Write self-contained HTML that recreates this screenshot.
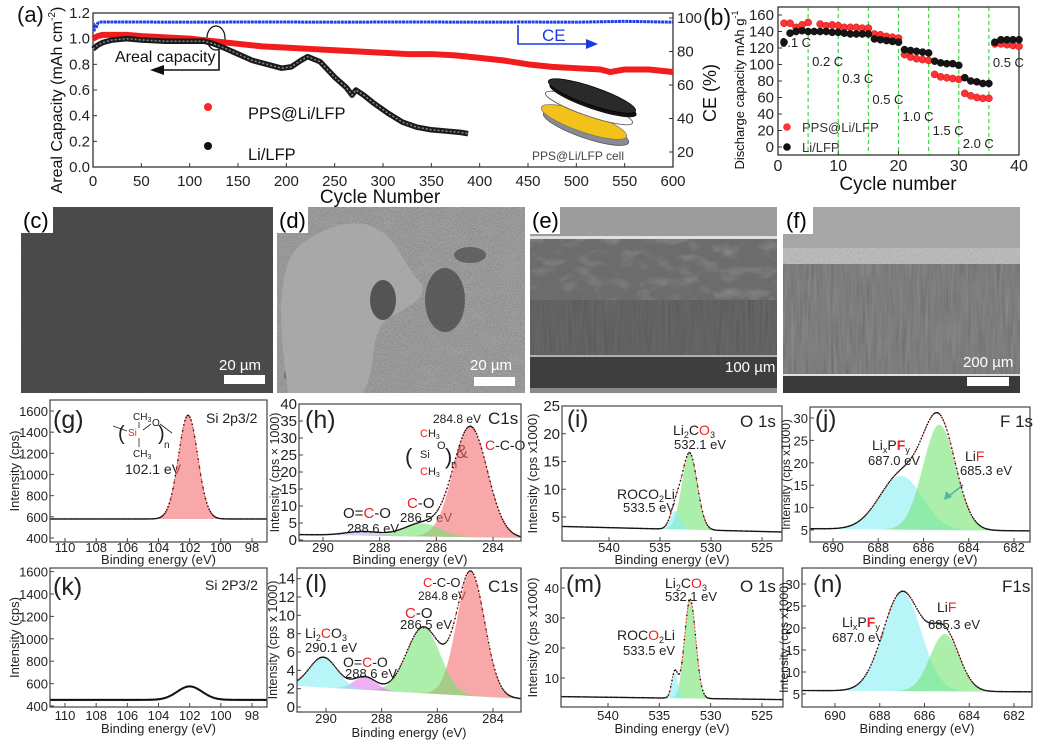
<!DOCTYPE html>
<html><head><meta charset="utf-8">
<style>
body{margin:0;background:#fff}
svg{display:block;font-family:"Liberation Sans",sans-serif}
</style></head>
<body>
<svg id="fig" width="1040" height="751" viewBox="0 0 1040 751" xmlns="http://www.w3.org/2000/svg">
<defs id="defs">
<filter id="grain" x="0" y="0" width="100%" height="100%"><feTurbulence type="fractalNoise" baseFrequency="0.7" numOctaves="2" seed="4"/><feColorMatrix type="matrix" values="0.33 0.33 0.33 0 0  0.33 0.33 0.33 0 0  0.33 0.33 0.33 0 0  0 0 0 0 1"/></filter>
<filter id="streak" x="0" y="0" width="100%" height="100%"><feTurbulence type="fractalNoise" baseFrequency="0.35 0.025" numOctaves="3" seed="7"/><feColorMatrix type="matrix" values="0.33 0.33 0.33 0 0  0.33 0.33 0.33 0 0  0.33 0.33 0.33 0 0  0 0 0 0 1"/></filter>
<filter id="blob" x="0" y="0" width="100%" height="100%"><feTurbulence type="fractalNoise" baseFrequency="0.05 0.09" numOctaves="3" seed="11"/><feColorMatrix type="matrix" values="0 0 0 0 0.25  0 0 0 0 0.25  0 0 0 0 0.25  -2.5 0 0 0 1.3"/></filter>
</defs>

<!-- ============ SEM images ============ -->
<g>
  <rect x="21" y="207" width="252" height="186" fill="#414141"/>
  <rect x="21" y="207" width="252" height="186" filter="url(#grain)" opacity="0.08"/>
  <rect x="21" y="207" width="32" height="26" fill="#fff"/>
  <text x="23" y="228" font-size="22" fill="#000">(c)</text>
  <text x="219" y="370" font-size="15" fill="#fff">20 µm</text>
  <rect x="224" y="375" width="41" height="9" fill="#fff"/>
</g>
<g>
  <rect x="277" y="207" width="248" height="186" fill="#7c7c7c"/>
  <rect x="277" y="207" width="248" height="186" filter="url(#blob)" opacity="0.6"/>
  <rect x="277" y="207" width="248" height="186" filter="url(#grain)" opacity="0.35"/>
  <ellipse cx="445" cy="300" rx="20" ry="32" fill="#3a3a3a" opacity="0.8"/>
  <ellipse cx="470" cy="255" rx="16" ry="8" fill="#444" opacity="0.8"/>
  <ellipse cx="312" cy="375" rx="28" ry="12" fill="#505050" opacity="0.8"/>
  <path d="M300 245 C330 222 362 218 378 230 C395 236 402 262 422 285 C428 302 398 310 384 322 C368 340 378 372 362 393 L288 393 C284 360 279 322 282 292 C285 266 290 255 300 245 Z" fill="#a5a5a5"/>
  <rect x="277" y="207" width="248" height="186" filter="url(#grain)" opacity="0.15"/>
  <ellipse cx="383" cy="300" rx="13" ry="20" fill="#454545" opacity="0.85"/>
  <rect x="277" y="207" width="31" height="26" fill="#fff"/>
  <text x="279" y="228" font-size="22" fill="#000">(d)</text>
  <text x="470" y="370" font-size="15" fill="#fff">20 µm</text>
  <rect x="474" y="377" width="41" height="9" fill="#fff"/>
</g>
<g>
  <rect x="530" y="207" width="247" height="186" fill="#5a5a5a"/>
  <rect x="530" y="207" width="247" height="30" fill="#9c9c9c"/>
  <rect x="530" y="236" width="247" height="3" fill="#e0e0e0"/>
  <rect x="530" y="239" width="247" height="62" fill="#6c6c6c"/>
  <rect x="530" y="239" width="247" height="62" filter="url(#blob)" opacity="0.8"/>
  <rect x="530" y="300" width="247" height="56" fill="#4c4c4c"/>
  <rect x="530" y="300" width="247" height="56" filter="url(#streak)" opacity="0.2"/>
  <rect x="530" y="355" width="247" height="2" fill="#b0b0b0"/>
  <rect x="530" y="357" width="247" height="31" fill="#3e3e3e"/>
  <rect x="530" y="388" width="247" height="5" fill="#8a8a8a"/>
  <rect x="530" y="207" width="30" height="27" fill="#fff"/>
  <text x="532" y="228" font-size="22" fill="#000">(e)</text>
  <text x="725" y="372" font-size="15" fill="#fff">100 µm</text>
</g>
<g>
  <rect x="783" y="207" width="237" height="186" fill="#5c5c5c"/>
  <rect x="783" y="207" width="237" height="45" fill="#a6a6a6"/>
  <rect x="783" y="248" width="237" height="16" fill="#b8b8b8"/>
  <rect x="783" y="248" width="237" height="16" filter="url(#grain)" opacity="0.4"/>
  <rect x="783" y="264" width="237" height="110" filter="url(#streak)" opacity="0.35"/>
  <rect x="783" y="374" width="237" height="2" fill="#e0e0e0"/>
  <rect x="783" y="376" width="237" height="17" fill="#3a3a3a"/>
  <rect x="783" y="207" width="30" height="27" fill="#fff"/>
  <text x="786" y="228" font-size="22" fill="#000">(f)</text>
  <text x="963" y="367" font-size="15" fill="#fff">200 µm</text>
  <rect x="967" y="377" width="42" height="9" fill="#fff"/>
</g>

<!-- ============ Panel (a) static ============ -->
<g>
  <text x="17" y="22" font-size="22" fill="#111">(a)</text>
  <text transform="translate(62,100) rotate(-90)" text-anchor="middle" font-size="16" fill="#111">Areal Capacity (mAh cm<tspan font-size="10" dy="-7">-2</tspan><tspan dy="7">)</tspan></text>
  <text transform="translate(716,93) rotate(-90)" text-anchor="middle" font-size="18" fill="#111">CE (%)</text>
  <text x="380" y="203" text-anchor="middle" font-size="19" fill="#111">Cycle Number</text>
  <text x="115" y="62" font-size="16" fill="#111">Areal capacity</text>
  <ellipse cx="216" cy="38" rx="9" ry="12" fill="none" stroke="#111" stroke-width="1.2"/>
  <polyline points="219,50 219,70 162,70" fill="none" stroke="#111" stroke-width="1.6"/>
  <polygon points="150,70 164,65 164,75" fill="#111"/>
  <text x="542" y="41" font-size="17" fill="#1a3ae0">CE</text>
  <polyline points="518,25 518,44 588,44" fill="none" stroke="#1a3ae0" stroke-width="1.6"/>
  <polygon points="598,44 586,39 586,49" fill="#1a3ae0"/>
  <circle cx="208" cy="107" r="4" fill="#f22"/>
  <text x="248" y="119" font-size="16.5" fill="#111">PPS@Li/LFP</text>
  <circle cx="208" cy="146" r="4" fill="#111"/>
  <text x="248" y="160" font-size="16.5" fill="#111">Li/LFP</text>
  <g>
    <ellipse cx="586" cy="128" rx="45" ry="10" transform="rotate(19 586 128)" fill="#8a8a95" stroke="#555" stroke-width="0.8"/>
    <ellipse cx="584" cy="122" rx="45" ry="10" transform="rotate(19 584 122)" fill="#f3c21a" stroke="#777" stroke-width="0.8"/>
    <ellipse cx="589" cy="108" rx="46" ry="8" transform="rotate(19 589 108)" fill="#fafafa" stroke="#666" stroke-width="1"/>
    <ellipse cx="593" cy="100" rx="46" ry="9" transform="rotate(19 593 100)" fill="#111"/>
    <ellipse cx="592" cy="96" rx="46" ry="9" transform="rotate(19 592 96)" fill="#2a2a2a" stroke="#000" stroke-width="0.8"/>
  </g>
  <text x="578" y="160" text-anchor="middle" font-size="12" fill="#444">PPS@Li/LFP cell</text>
</g>

<!-- ============ Panel (b) static ============ -->
<g>
  <text x="703" y="25" font-size="23" fill="#111">(b)</text>
  <text transform="translate(744,90) rotate(-90)" text-anchor="middle" font-size="13" fill="#111">Discharge capacity mAh g<tspan font-size="9" dy="-6">-1</tspan></text>
  <text x="898" y="190" text-anchor="middle" font-size="19" fill="#111">Cycle number</text>
  <circle cx="787" cy="127" r="3.8" fill="#f33"/>
  <text x="802" y="132" font-size="13" fill="#333">PPS@Li/LFP</text>
  <circle cx="787" cy="147" r="3.8" fill="#111"/>
  <text x="802" y="152" font-size="13" fill="#333">Li/LFP</text>
</g>

<!-- ============ XPS static annotations ============ -->
<g font-size="13" fill="#222">
  <text x="53" y="428" font-size="25">(g)</text>
  <text x="206" y="423" font-size="14">Si 2p3/2</text>
  <g font-size="10">
    <text x="133" y="420">CH<tspan font-size="7" dy="2">3</tspan></text>
    <text x="128" y="436" fill="#e22">Si</text>
    <text x="152" y="426">O</text>
    <text x="133" y="457">CH<tspan font-size="7" dy="2">3</tspan></text>
    <text x="118" y="440" font-size="20">(</text>
    <text x="158" y="440" font-size="20">)</text>
    <text x="164" y="448">n</text>
    <line x1="139" y1="422" x2="139" y2="428" stroke="#222" stroke-width="0.8"/>
    <line x1="139" y1="438" x2="139" y2="447" stroke="#222" stroke-width="0.8"/>
    <line x1="113" y1="426" x2="127" y2="431" stroke="#222" stroke-width="0.8"/>
    <line x1="143" y1="430" x2="151" y2="424" stroke="#222" stroke-width="0.8"/>
    <line x1="160" y1="424" x2="172" y2="433" stroke="#222" stroke-width="0.8"/>
  </g>
  <text x="125" y="474" font-size="14">102.1 eV</text>

  <text x="305" y="428" font-size="25">(h)</text>
  <text x="488" y="424" font-size="17">C1s</text>
  <text x="433" y="423" font-size="12">284.8 eV</text>
  <g font-size="11">
    <text x="420" y="437" fill="#e22">C<tspan fill="#222">H</tspan><tspan font-size="7" dy="2" fill="#222">3</tspan></text>
    <text x="420" y="458">Si</text>
    <text x="437" y="449">O</text>
    <text x="420" y="475" fill="#e22">C<tspan fill="#222">H</tspan><tspan font-size="7" dy="2" fill="#222">3</tspan></text>
    <text x="405" y="464" font-size="22">(</text>
    <text x="445" y="464" font-size="22">)</text>
    <text x="451" y="468">n</text>
  </g>
  <text x="456" y="458" font-size="18">&amp;</text>
  <text x="485" y="450" font-size="14"><tspan fill="#e22">C</tspan>-C-O</text>
  <text x="407" y="508" font-size="15"><tspan fill="#e22">C</tspan>-O</text>
  <text x="400" y="522" font-size="13">286.5 eV</text>
  <text x="343" y="518" font-size="15">O=<tspan fill="#e22">C</tspan>-O</text>
  <text x="347" y="533" font-size="13">288.6 eV</text>

  <text x="567" y="427" font-size="24">(i)</text>
  <text x="740" y="427" font-size="17">O 1s</text>
  <text x="673" y="435" font-size="14">Li<tspan font-size="9" dy="3">2</tspan><tspan dy="-3">C</tspan><tspan fill="#e22">O</tspan><tspan font-size="9" dy="3">3</tspan></text>
  <text x="674" y="449" font-size="13">532.1 eV</text>
  <text x="617" y="499" font-size="14">ROCO<tspan font-size="9" dy="3">2</tspan><tspan dy="-3">Li</tspan></text>
  <text x="623" y="512" font-size="13">533.5 eV</text>

  <text x="815" y="427" font-size="24">(j)</text>
  <text x="1000" y="427" font-size="17">F 1s</text>
  <text x="872" y="450" font-size="14">Li<tspan font-size="9" dy="3">x</tspan><tspan dy="-3">P</tspan><tspan fill="#e22" font-weight="bold">F</tspan><tspan font-size="9" dy="3">y</tspan></text>
  <text x="868" y="465" font-size="13">687.0 eV</text>
  <text x="965" y="461" font-size="14">Li<tspan fill="#e22">F</tspan></text>
  <text x="960" y="475" font-size="13">685.3 eV</text>
  <line x1="963" y1="485" x2="949" y2="496" stroke="#2a6af0" stroke-width="1.5"/>
  <polygon points="944,500 946,491 952,497" fill="#2a6af0"/>

  <text x="53" y="595" font-size="25">(k)</text>
  <text x="205" y="590" font-size="14">Si 2P3/2</text>

  <text x="305" y="592" font-size="25">(l)</text>
  <text x="488" y="592" font-size="17">C1s</text>
  <text x="423" y="587" font-size="13"><tspan fill="#e22">C</tspan>-C-O</text>
  <text x="418" y="600" font-size="12">284.8 eV</text>
  <text x="405" y="618" font-size="15"><tspan fill="#e22">C</tspan>-O</text>
  <text x="400" y="629" font-size="13">286.5 eV</text>
  <text x="305" y="638" font-size="14">Li<tspan font-size="9" dy="3">2</tspan><tspan dy="-3" fill="#e22">C</tspan>O<tspan font-size="9" dy="3">3</tspan></text>
  <text x="305" y="652" font-size="13">290.1 eV</text>
  <text x="343" y="667" font-size="14">O=<tspan fill="#e22">C</tspan>-O</text>
  <text x="345" y="678" font-size="13">288.6 eV</text>

  <text x="566" y="592" font-size="24">(m)</text>
  <text x="740" y="592" font-size="17">O 1s</text>
  <text x="665" y="588" font-size="14">Li<tspan font-size="9" dy="3">2</tspan><tspan dy="-3">C</tspan><tspan fill="#e22">O</tspan><tspan font-size="9" dy="3">3</tspan></text>
  <text x="665" y="601" font-size="13">532.1 eV</text>
  <text x="617" y="640" font-size="14">ROC<tspan fill="#e22">O</tspan><tspan font-size="9" dy="3">2</tspan><tspan dy="-3">Li</tspan></text>
  <text x="623" y="655" font-size="13">533.5 eV</text>

  <text x="813" y="592" font-size="24">(n)</text>
  <text x="1002" y="592" font-size="17">F1s</text>
  <text x="842" y="627" font-size="14">Li<tspan font-size="9" dy="3">x</tspan><tspan dy="-3">P</tspan><tspan fill="#e22" font-weight="bold">F</tspan><tspan font-size="9" dy="3">y</tspan></text>
  <text x="832" y="642" font-size="13">687.0 eV</text>
  <text x="937" y="612" font-size="14">Li<tspan fill="#e22">F</tspan></text>
  <text x="928" y="629" font-size="13">685.3 eV</text>
</g>
</svg>

<script>
// ---------- Panel (a) data ----------
const aXTicks = [0,50,100,150,200,250,300,350,400,450,500,550,600];
const aYTicks = [0,0.2,0.4,0.6,0.8,1.0,1.2];
const aCeTicks = [20,40,60,80,100];
const aPpsCycles = [0,5,10,20,35,50,75,100,125,150,175,200,225,250,275,300,325,350,375,400,425,450,475,500,525,535,550,575,600];
const aPpsCap = [1.0,1.02,1.03,1.03,1.03,1.02,1.01,1.0,0.98,0.96,0.94,0.93,0.92,0.91,0.9,0.89,0.88,0.88,0.87,0.85,0.83,0.8,0.78,0.77,0.76,0.74,0.76,0.76,0.74];
const aLiCycles = [0,5,10,20,35,50,75,100,115,125,135,150,165,180,195,205,215,222,235,250,262,268,272,280,290,305,320,335,350,365,380,388];
const aLiCap = [0.92,0.95,0.97,0.99,1.0,0.99,0.98,0.98,0.98,0.96,0.93,0.88,0.83,0.8,0.77,0.78,0.83,0.86,0.82,0.7,0.62,0.56,0.6,0.56,0.5,0.42,0.35,0.31,0.29,0.28,0.27,0.26];
const aCeCycles = [1,2,3,5,8,50,100,150,200,250,300,350,400,450,500,550,600];
const aCe = [92,95,94,97,97.6,97.6,97.5,97.6,97.6,97.5,97.6,97.6,97.5,97.6,97.5,98,97.5];

// ---------- Panel (b) data ----------
const bXTicks = [0,10,20,30,40];
const bYTicks = [0,20,40,60,80,100,120,140,160];
const bCycles = [1,2,3,4,5,6,7,8,9,10,11,12,13,14,15,16,17,18,19,20,21,22,23,24,25,26,27,28,29,30,31,32,33,34,35,36,37,38,39,40];
const bPps = [150,150,145,148,151,null,149,147,148,147,145,145,145,144,144,137,136,134,133,132,112,109,107,106,105,88,85,84,83,82,65,62,60,59,59,125,125,124,123,122];
const bLi = [127,138,140,141,140,140,140,140,139,139,138,137,137,137,137,131,130,129,128,127,118,117,116,115,114,104,102,101,101,99,84,80,79,77,77,127,130,130,130,130];
const bRateBounds = [5,10,15,20,25,30,35];
const bRateNames = ["0.1 C","0.2 C","0.3 C","0.5 C","1.0 C","1.5 C","2.0 C","0.5 C"];
const bRateStart = [0,5,10,15,20,25,30,35];

// ---------- XPS data ----------
const gCenters=[102.1], gHeights=[980], gSigmas=[0.62], gBase=[580,580];
const hCenters=[284.8,286.5,288.6], hHeights=[32.5,3.8,1.2], hSigmas=[0.6,0.65,0.6], hBase=[1.6,0.6];
const iCenters=[532.1,533.5], iHeights=[13.8,3.3], iSigmas=[0.75,0.5], iBase=[3.3,2.3];
const jCenters=[687.0,685.3], jHeights=[12,23.5], jSigmas=[0.95,0.72], jBase=[5.3,4.8];
const kCenters=[102.0], kHeights=[120], kSigmas=[0.8], kBase=[455,455];
const lCenters=[284.8,286.5,288.6,290.1], lHeights=[13.5,7.2,1.4,3.3], lSigmas=[0.5,0.6,0.4,0.5], lBase=[2.3,0.9];
const mCenters=[532.0,533.5], mHeights=[33,8.5], mSigmas=[0.55,0.3], mBase=[3.8,2.8];
const nCenters=[687.0,685.1], nHeights=[22.5,13], nSigmas=[0.85,0.65], nBase=[5.8,5.5];
const gXTicks=[110,108,106,104,102,100,98], gYTicks=[400,600,800,1000,1200,1400,1600];
const hXTicks=[290,288,286,284], hYTicks=[0,5,10,15,20,25,30,35,40];
const iXTicks=[540,535,530,525], iYTicks=[5,10,15,20,25];
const jXTicks=[690,688,686,684,682], jYTicks=[5,10,15,20,25,30];
const lYTicks=[0,2,4,6,8,10,12,14];
const mYTicks=[10,20,30,40];

const NS='http://www.w3.org/2000/svg';
const svg=document.getElementById('fig');
const defs=document.getElementById('defs');
function lin(d0,d1,r0,r1){return v=>r0+(v-d0)*(r1-r0)/(d1-d0);}
function mk(tag,attrs,name,parent){
  const e=document.createElementNS(NS,tag);
  for(const k in attrs) e.setAttribute(k,attrs[k]);
  
  
  parent.appendChild(e);
  return e;
}
function label(parent,x,y,s,size,anchor,name){
  const t=mk('text',{x:x,y:y,'font-size':size,'text-anchor':anchor,fill:'#222'},name,parent);
  t.textContent=s;
  return t;
}

// ---------- Panel (a) ----------
(function(){
  const g=mk('g',{},'panel-a-chart',svg);
  const ax=lin(0,600,93,673), ay=lin(0,1.2,167,13), ace=lin(20,100,152,18);
  mk('rect',{x:93,y:13,width:580,height:154,fill:'none',stroke:'#333','stroke-width':1.3},'plot-frame-a',g);
  aXTicks.forEach(c=>{
    mk('line',{x1:ax(c),y1:167,x2:ax(c),y2:163,stroke:'#333'},'x-tick-a',g);
    label(g,ax(c),186,String(c),15,'middle','x-tick-label-a');
  });
  aYTicks.forEach(v=>{
    mk('line',{x1:93,y1:ay(v),x2:97,y2:ay(v),stroke:'#333'},'y-tick-a',g);
    label(g,90,ay(v)+5,v.toFixed(1),15,'end','y-tick-label-a');
  });
  aCeTicks.forEach(v=>{
    mk('line',{x1:673,y1:ace(v),x2:669,y2:ace(v),stroke:'#333'},'ce-tick',g);
    label(g,677,ace(v)+5,String(v),15,'start','ce-tick-label');
  });
  const ce=aCeCycles.map((c,i)=>ax(c)+','+ace(aCe[i])).join(' ');
  mk('polyline',{points:ce,fill:'none',stroke:'#1f3fe8','stroke-width':3,'stroke-dasharray':'3 0.6'},'ce-series',g);
  const pps=aPpsCycles.map((c,i)=>ax(c)+','+ay(aPpsCap[i])).join(' ');
  mk('polyline',{points:pps,fill:'none',stroke:'#f21c1c','stroke-width':6,'stroke-linejoin':'round'},'pps-li-lfp-series',g);
  const li=aLiCycles.map((c,i)=>ax(c)+','+ay(aLiCap[i])).join(' ');
  mk('polyline',{points:li,fill:'none',stroke:'#1a1a1a','stroke-width':5.5,'stroke-linejoin':'round'},'li-lfp-series',g);
  mk('polyline',{points:li,fill:'none',stroke:'#8a8a8a','stroke-width':1.5,'stroke-dasharray':'2 2'},'li-lfp-series-highlight',g);
})();

// ---------- Panel (b) ----------
(function(){
  const g=mk('g',{},'panel-b-chart',svg);
  const bx=lin(0,40,778,1019), by=lin(0,160,147,15);
  bRateBounds.forEach(c=>{
    mk('line',{x1:bx(c),y1:7,x2:bx(c),y2:155,stroke:'#3ddc3d','stroke-width':1.2,'stroke-dasharray':'4 3'},'rate-boundary',g);
  });
  const rateY=[47,66,83,104,121,135,148,67];
  bRateNames.forEach((s,i)=>{
    label(g,bx(bRateStart[i])+ (i===0?2:4),rateY[i],s,13,'start','rate-label');
  });
  mk('rect',{x:778,y:7,width:241,height:148,fill:'none',stroke:'#333','stroke-width':1.3},'plot-frame-b',g);
  bXTicks.forEach(c=>{
    mk('line',{x1:bx(c),y1:155,x2:bx(c),y2:151,stroke:'#333'},'x-tick-b',g);
    label(g,bx(c),171,String(c),16,'middle','x-tick-label-b');
  });
  bYTicks.forEach(v=>{
    mk('line',{x1:778,y1:by(v),x2:782,y2:by(v),stroke:'#333'},'y-tick-b',g);
    label(g,774,by(v)+5,String(v),15,'end','y-tick-label-b');
  });
  bCycles.forEach((c,i)=>{
    if(bPps[i]!==null){
      mk('circle',{cx:bx(c),cy:by(bPps[i]),r:3.6,fill:'#f33',stroke:'#b00','stroke-width':0.4},'pps-point',g);
    }
  });
  bCycles.forEach((c,i)=>{
    mk('circle',{cx:bx(c),cy:by(bLi[i]),r:3.6,fill:'#151515',stroke:'#000','stroke-width':0.4},'li-point',g);
  });
})();

// ---------- XPS panels ----------
const RED='rgb(244,110,110)', GREEN='rgb(115,228,115)', CYAN='rgb(135,238,245)', MAG='rgb(228,125,238)', LAV='rgb(185,185,235)';
function xps(p){
  const g=mk('g',{},p.name,svg);
  const [bx0,by0,bx1,by1]=p.box;
  const xs=lin(p.xt[0],p.xt[1],p.xt[2],p.xt[3]);
  const ys=lin(p.yt[0],p.yt[1],p.yt[2],p.yt[3]);
  const eAt=x=>p.xt[0]+(x-p.xt[2])*(p.xt[1]-p.xt[0])/(p.xt[3]-p.xt[2]);
  const eHi=eAt(bx0), eLo=eAt(bx1);
  const cp=mk('clipPath',{id:'clip-'+p.id},'clip-'+p.id,defs);
  mk('rect',{x:bx0,y:by0,width:bx1-bx0,height:by1-by0},'clip-rect',cp);
  const inner=mk('g',{'clip-path':'url(#clip-'+p.id+')'},'spectrum-'+p.id,g);
  const base=e=>p.base[0]+(p.base[1]-p.base[0])*(eHi-e)/(eHi-eLo);
  const ga=(i,e)=>p.h[i]*Math.exp(-Math.pow(e-p.c[i],2)/(2*p.s[i]*p.s[i]));
  const N=360, es=[];
  for(let k=0;k<=N;k++) es.push(eHi+(eLo-eHi)*k/N);
  if(p.fill){
    p.c.forEach((c,i)=>{
      let d='M'+xs(es[0])+' '+ys(base(es[0]));
      es.forEach(e=>{d+=' L'+xs(e).toFixed(2)+' '+ys(base(e)+ga(i,e)).toFixed(2);});
      d+=' L'+xs(es[N])+' '+ys(base(es[N]))+' Z';
      mk('path',{d:d,fill:p.colors[i],'fill-opacity':0.6,stroke:'none'},'fit-component',inner);
    });
  }
  const env=es.map(e=>{let s=base(e);p.c.forEach((c,i)=>{s+=ga(i,e);});return [xs(e),ys(s)];});
  if(p.fill){
    mk('polyline',{points:env.map(q=>q[0].toFixed(2)+','+q[1].toFixed(2)).join(' '),fill:'none',stroke:'#e33','stroke-width':1,'stroke-dasharray':'2 1.5'},'fit-envelope',inner);
  }
  env.forEach((q,k)=>{
    if(k%2===0){
      mk('circle',{cx:q[0].toFixed(2),cy:q[1].toFixed(2),r:p.fill?0.8:1.1,fill:'#111'},'data-point',inner);
    }
  });
  mk('rect',{x:bx0,y:by0,width:bx1-bx0,height:by1-by0,fill:'none',stroke:'#444','stroke-width':1.2},'plot-frame-'+p.id,g);
  p.xticks.forEach(v=>{
    mk('line',{x1:xs(v),y1:by1,x2:xs(v),y2:by1-4,stroke:'#444'},'x-tick',g);
    label(g,xs(v),p.tickY,String(v),13,'middle','x-tick-label');
  });
  p.yticks.forEach(v=>{
    mk('line',{x1:bx0,y1:ys(v),x2:bx0+4,y2:ys(v),stroke:'#444'},'y-tick',g);
    label(g,bx0-2,ys(v)+5,String(v),p.yfs||13,'end','y-tick-label');
  });
  label(g,(bx0+bx1)/2,p.titleY,'Binding energy (eV)',13,'middle','x-axis-title');
  const yt=mk('text',{transform:'translate('+p.ytx+','+((by0+by1)/2)+') rotate(-90)','text-anchor':'middle','font-size':p.ytfs||13,fill:'#222'},'y-axis-title',g);
  yt.textContent=p.ytitle;
}
xps({id:'g',name:'xps-panel-g',box:[50,400,267,542],xt:[110,98,65,252],yt:[400,1600,538,411],c:gCenters,h:gHeights,s:gSigmas,base:gBase,colors:[RED],fill:true,xticks:gXTicks,yticks:gYTicks,tickY:552,titleY:564,ytx:19,ytitle:'Intensity (cps)'});
xps({id:'h',name:'xps-panel-h',box:[299,404,521,541],xt:[290,284,323,493],yt:[0,40,540,404],c:hCenters,h:hHeights,s:hSigmas,base:hBase,colors:[RED,GREEN,LAV],fill:true,xticks:hXTicks,yticks:hYTicks,tickY:552,titleY:564,ytx:279,ytitle:'Intensity (cps × 1000)',yfs:15,ytfs:12.5});
xps({id:'i',name:'xps-panel-i',box:[562,406,782,541],xt:[540,525,609,762],yt:[5,25,517,406],c:iCenters,h:iHeights,s:iSigmas,base:iBase,colors:[GREEN,CYAN],fill:true,xticks:iXTicks,yticks:iYTicks,tickY:552,titleY:564,ytx:537,ytitle:'Intensity (cps x1000)',yfs:15});
xps({id:'j',name:'xps-panel-j',box:[810,407,1030,542],xt:[690,682,833,1014],yt:[5,30,530,418],c:jCenters,h:jHeights,s:jSigmas,base:jBase,colors:[CYAN,GREEN],fill:true,xticks:jXTicks,yticks:jYTicks,tickY:552,titleY:564,ytx:790,ytitle:'Intensity (cps x1000)',ytfs:12});
xps({id:'k',name:'xps-panel-k',box:[50,568,267,707],xt:[110,98,65,252],yt:[400,1400,706,594],c:kCenters,h:kHeights,s:kSigmas,base:kBase,colors:[],fill:false,xticks:gXTicks,yticks:gYTicks,tickY:720,titleY:733,ytx:19,ytitle:'Intensity (cps)'});
xps({id:'l',name:'xps-panel-l',box:[297,568,521,712],xt:[290,284,326,493],yt:[0,12,707,597],c:lCenters,h:lHeights,s:lSigmas,base:lBase,colors:[RED,GREEN,MAG,CYAN],fill:true,xticks:hXTicks,yticks:lYTicks,tickY:723,titleY:737,ytx:277,ytitle:'Intensity (cps x 1000)',yfs:15,ytfs:12.5});
xps({id:'m',name:'xps-panel-m',box:[561,568,783,707],xt:[540,525,608,762],yt:[10,30,678,618],c:mCenters,h:mHeights,s:mSigmas,base:mBase,colors:[GREEN,CYAN],fill:true,xticks:iXTicks,yticks:mYTicks,tickY:720,titleY:733,ytx:537,ytitle:'Intensity (cps x1000)'});
xps({id:'n',name:'xps-panel-n',box:[802,568,1032,707],xt:[690,682,835,1014],yt:[5,25,694,606],c:nCenters,h:nHeights,s:nSigmas,base:nBase,colors:[CYAN,GREEN],fill:true,xticks:jXTicks,yticks:jYTicks,tickY:720,titleY:733,ytx:788,ytitle:'Intensity (cps x1000)',ytfs:12});
</script>
</body></html>
